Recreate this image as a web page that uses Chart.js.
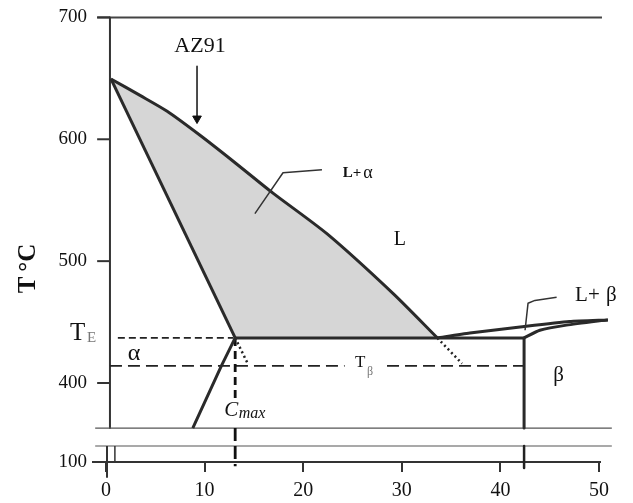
<!DOCTYPE html>
<html><head><meta charset="utf-8">
<script src="https://cdn.jsdelivr.net/npm/chart.js@4"></script>
<style>html,body{margin:0;padding:0;background:#fff}#wrap{width:633px;height:503px}</style>
</head><body><div id="wrap"><canvas id="c" width="633" height="503"></canvas></div>
<script>
// ---- data (wt% Al, temperature °C) ----
const xTicks = [0, 10, 20, 30, 40, 50];
const yTicks = [400, 500, 600, 700];
const yLowTicks = [100];
const liquidusX = [0.5, 3.45, 6.2, 9.5, 12.9, 16.9, 22.4, 29.1, 33.6];
const liquidusT = [649.5, 636, 623, 603.5, 582, 556, 522.5, 473.5, 437];
const solidusX = [0.5, 13.1];
const solidusT = [649.5, 437];
const solvusX = [13.1, 11.7, 8.8];
const solvusT = [437, 414, 363];
const eutecticX = [13.1, 33.6, 42.4];
const eutecticT = [437, 437, 437];
const betaLiqX = [33.6, 36.9, 42.0, 47.0, 50.9];
const betaLiqT = [437, 441, 446, 450.5, 451.8];
const betaSolX = [42.4, 44.0, 46.7, 50.9];
const betaSolT = [437, 443.3, 447.5, 451.8];
const betaX = [42.4, 42.4];
const betaT = [437, 363];
const metaAlphaX = [13.1, 14.4];
const metaAlphaT = [437, 415.5];
const metaBetaX = [33.6, 36.1];
const metaBetaT = [437, 416];
const TE = 437, TB = 414, CMAX = 13.1, AZ91 = 9.23;
const teDashX = [1.2, 12.9];
const tbDashX1 = [0.4, 24.2];
const tbDashX2 = [28.5, 42.3];
const cmaxTopT = [437, 385];
const cmaxLowT = [128, 96.5];
const arrowT = [660, 615];
const lAlphaPtrX = [15.1, 17.95, 21.9];
const lAlphaPtrT = [539, 572.5, 575];
const lBetaPtrX = [42.5, 42.8, 43.5, 45.7];
const lBetaPtrT = [443.3, 465.4, 467.8, 470.3];
// frame (broken axis)
const yAxisX = 0.4, frameLeft = -0.9, frameRight = 50.3, breakLeft = -1.1, breakRight = 51.3;
const breakLowT = 113.2;

function pts(xs, ts) { return xs.map((x, i) => ({x: x, y: ts[i]})); }
function line(xs, ts, style, axis) {
  return Object.assign({data: pts(xs, ts), showLine: true, pointRadius: 0, fill: false,
    borderColor: '#2a2a2a', borderWidth: 3, yAxisID: axis || 'y', clip: false, tension: 0,
    borderJoinStyle: 'round'}, style || {});
}
const constArr = (v, n) => Array(n).fill(v);

// grey two-phase region polygon
const regionX = liquidusX.concat([CMAX, solidusX[0]]);
const regionT = liquidusT.concat([TE, solidusT[0]]);

// listed bottom-to-top; reversed below because Chart.js paints the last dataset first
const layers = [
  line(regionX, regionT, {fill: 'shape', backgroundColor: '#d6d6d6', borderWidth: 0, borderColor: 'rgba(0,0,0,0)'}),
  // frame
  line([frameLeft, frameRight], [700, 700], {borderWidth: 2, borderColor: '#444'}),
  line([yAxisX, yAxisX], [700, 363], {borderWidth: 2, borderColor: '#333'}),
  line([breakLeft, breakRight], [363, 363], {borderWidth: 1.2, borderColor: '#555'}),
  line([breakLeft, breakRight], [breakLowT, breakLowT], {borderWidth: 1.2, borderColor: '#555'}, 'y2'),
  line([0.1, 0.1], [87, breakLowT], {borderWidth: 2, borderColor: '#333'}, 'y2'),
  line([0.9, 0.9], [100, breakLowT], {borderWidth: 1.5, borderColor: '#333'}, 'y2'),
  line([betaX[0], betaX[0]], [breakLowT, 95], {borderWidth: 2.5, borderColor: '#222'}, 'y2'),
  // dashed construction lines
  line(teDashX, constArr(TE, 2), {borderWidth: 1.8, borderDash: [7, 4], borderColor: '#222'}),
  line(tbDashX1, constArr(TB, 2), {borderWidth: 1.8, borderDash: [12, 6], borderColor: '#222'}),
  line(tbDashX2, constArr(TB, 2), {borderWidth: 1.8, borderDash: [12, 6], borderColor: '#222'}),
  line(constArr(CMAX, 2), cmaxTopT, {borderWidth: 2.8, borderDash: [8, 5], borderColor: '#111'}),
  line(constArr(CMAX, 2), cmaxLowT, {borderWidth: 2.8, borderDash: [13, 5], borderColor: '#111'}, 'y2'),
  // metastable dotted extensions
  line(metaAlphaX, metaAlphaT, {borderWidth: 2.5, borderDash: [2, 3], borderColor: '#222'}),
  line(metaBetaX, metaBetaT, {borderWidth: 2.5, borderDash: [2, 3], borderColor: '#222'}),
  // phase boundaries
  line(liquidusX, liquidusT, {tension: 0.25}),
  line(solidusX, solidusT),
  line(solvusX, solvusT),
  line(eutecticX, eutecticT),
  line(betaLiqX, betaLiqT, {tension: 0.2}),
  line(betaSolX, betaSolT, {tension: 0.2}),
  line(betaX, betaT),
  // pointers
  line(lAlphaPtrX, lAlphaPtrT, {borderWidth: 1.5, borderColor: '#333'}),
  line(lBetaPtrX, lBetaPtrT, {borderWidth: 1.5, borderColor: '#333'}),
  line(constArr(AZ91, 2), arrowT, {borderWidth: 1.5, borderColor: '#111'}),
  {data: [{x: AZ91, y: arrowT[1] + 2}], showLine: false, pointStyle: 'triangle', rotation: 180,
   pointRadius: 5, backgroundColor: '#111', borderColor: '#111', borderWidth: 1, yAxisID: 'y', clip: false}
];
const datasets = layers.slice().reverse();

const SERIF = '"Liberation Serif", "Times New Roman", serif';
const labels = [
  {t: 'AZ91', x: 9.53, y: 676.5, f: '22px ' + SERIF, a: 'center'},
  {t: 'L', x: 29.8, y: 517.5, f: '20px ' + SERIF, a: 'center'},
  {t: 'L+', x: 24.0, y: 572.5, f: 'bold 15px ' + SERIF, a: 'left'},
  {t: 'α', x: 26.1, y: 572.0, f: '18px ' + SERIF, a: 'left'},
  {t: 'L+', x: 47.57, y: 471.9, f: '21px ' + SERIF, a: 'left'},
  {t: 'β', x: 50.7, y: 471.9, f: '21px ' + SERIF, a: 'left'},
  {t: 'β', x: 45.9, y: 406.5, f: '21px ' + SERIF, a: 'center'},
  {t: 'α', x: 2.84, y: 424.0, f: '24px ' + SERIF, a: 'center'},
  {t: 'T', x: -3.65, y: 440.5, f: '25px ' + SERIF, a: 'left'},
  {t: 'E', x: -1.93, y: 436.5, f: '15px ' + SERIF, a: 'left', c: '#777'},
  {t: 'T', x: 25.25, y: 416.7, f: '17px ' + SERIF, a: 'left'},
  {t: 'β', x: 26.47, y: 409.5, f: '12px ' + SERIF, a: 'left', c: '#777'},
  {t: 'C', x: 12.0, y: 377.5, f: 'italic 21px ' + SERIF, a: 'left'},
  {t: 'max', x: 13.45, y: 374.5, f: 'italic 16px ' + SERIF, a: 'left'}
];

const deco = {
  id: 'deco',
  afterDatasetsDraw(chart) {
    const c = chart.ctx, xs = chart.scales.x, ys = chart.scales.y;
    c.save();
    // y tick marks
    c.strokeStyle = '#333'; c.lineWidth = 2;
    yTicks.forEach(v => {
      const py = ys.getPixelForValue(v);
      c.beginPath(); c.moveTo(xs.getPixelForValue(frameLeft), py); c.lineTo(xs.getPixelForValue(yAxisX), py); c.stroke();
    });
    // labels
    c.textBaseline = 'middle';
    labels.forEach(l => {
      c.font = l.f; c.fillStyle = l.c || '#111'; c.textAlign = l.a;
      c.fillText(l.t, xs.getPixelForValue(l.x), ys.getPixelForValue(l.y));
    });
    // axis title
    c.save();
    c.translate(xs.left - 64, ys.getPixelForValue(494));
    c.rotate(-Math.PI / 2);
    c.font = 'bold 25px ' + SERIF; c.fillStyle = '#111'; c.textAlign = 'center';
    c.fillText('T\u2009°C', 0, 0);
    c.restore();
    c.restore();
  }
};

const tickFont = {family: SERIF, size: 19};
const tickFontX = {family: SERIF, size: 20};
new Chart(document.getElementById('c'), {
  type: 'scatter',
  data: {datasets: datasets},
  options: {
    responsive: false, animation: false,
    layout: {padding: {top: 16, right: 33, left: 0, bottom: 0}},
    plugins: {legend: {display: false}, tooltip: {enabled: false}},
    scales: {
      x: {type: 'linear', min: -1.32, max: 50.1,
        afterBuildTicks: s => { s.ticks = xTicks.map(v => ({value: v})); },
        grid: {display: true, drawOnChartArea: false, drawTicks: true, tickLength: 10, color: '#333', lineWidth: 2},
        border: {display: true, color: '#333', width: 2},
        ticks: {font: tickFontX, color: '#111', padding: 7, maxRotation: 0},
        afterFit: s => { s.height = 41; }},
      y2: {type: 'linear', position: 'left', stack: 'temp', stackWeight: 34, min: 100, max: 128,
        afterBuildTicks: s => { s.ticks = yLowTicks.map(v => ({value: v})); },
        grid: {display: false, drawTicks: false}, border: {display: false},
        ticks: {font: tickFont, color: '#111', padding: 6},
        afterFit: s => { s.width = 93; }},
      y: {type: 'linear', position: 'left', stack: 'temp', stackWeight: 412, min: 363, max: 700,
        afterBuildTicks: s => { s.ticks = yTicks.map(v => ({value: v})); },
        grid: {display: false, drawTicks: false}, border: {display: false},
        ticks: {font: tickFont, color: '#111', padding: 6},
        afterFit: s => { s.width = 93; }}
    }
  },
  plugins: [deco]
});
</script></body></html>
